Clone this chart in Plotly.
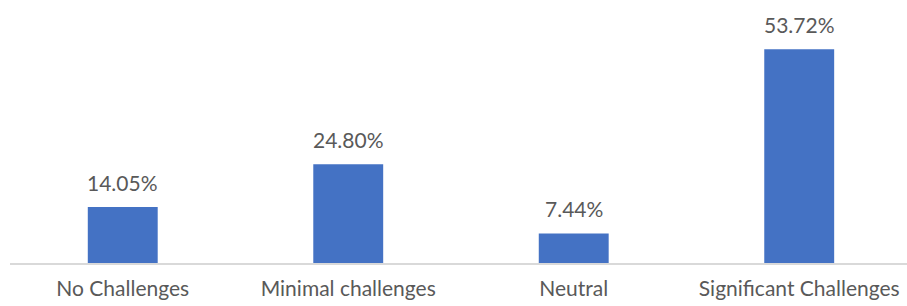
import plotly.graph_objects as go

categories = ["No Challenges", "Minimal challenges", "Neutral", "Significant Challenges"]
values = [14.05, 24.80, 7.44, 53.72]
labels = ["14.05%", "24.80%", "7.44%", "53.72%"]

FONT = "Lato"
GREY = "#595959"

fig = go.Figure()
fig.add_trace(go.Bar(
    x=list(range(len(categories))),
    y=values,
    marker=dict(color="#4472C4", line=dict(width=0)),
    width=0.31,
    hoverinfo="skip",
))

for i, (v, t) in enumerate(zip(values, labels)):
    fig.add_annotation(
        x=i, y=v, text=t, showarrow=False,
        yanchor="bottom", yshift=10,
        font=dict(family=FONT, size=21, color=GREY),
    )

fig.update_layout(
    width=907, height=306,
    margin=dict(l=10, r=0, t=10, b=43, autoexpand=False),
    paper_bgcolor="white", plot_bgcolor="white",
    showlegend=False,
    xaxis=dict(
        tickmode="array",
        tickvals=list(range(len(categories))),
        ticktext=categories,
        range=[-0.5, 3.478],
        showgrid=False, zeroline=False,
        showline=True, linecolor="#D9D9D9", linewidth=1.5,
        ticks="", ticklabelstandoff=6, automargin=False,
        tickfont=dict(family=FONT, size=21, color=GREY),
    ),
    yaxis=dict(
        range=[0, 63.6], visible=False, showgrid=False, zeroline=False,
        automargin=False,
    ),
)

fig.write_html(
    "out.html",
    config={"displayModeBar": False},
    post_script="document.body.style.margin='0';document.body.style.padding='0';",
)
